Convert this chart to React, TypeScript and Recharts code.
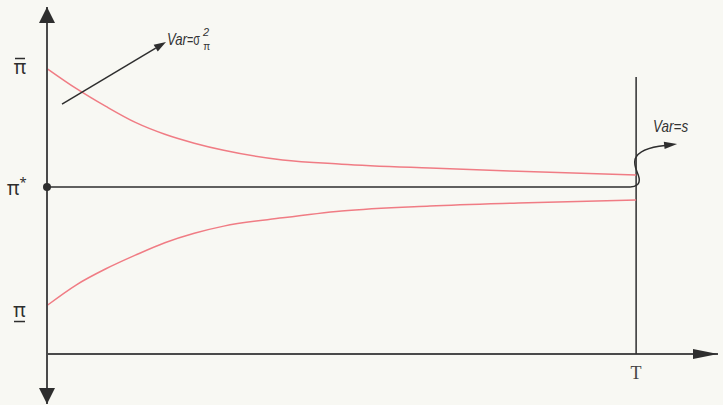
import React from "react"
import {
  ComposedChart,
  Line,
  XAxis,
  YAxis,
  ReferenceLine,
  ReferenceDot,
} from "recharts"

// time grid (T = 1) and the two price-bound paths, in units of (pi-bar - pi*)
const T_VALUES = [0, 0.05, 0.1, 0.15, 0.2, 0.25, 0.3, 0.4, 0.5, 0.65, 0.8, 1.0]
const UPPER = [1.0, 0.83, 0.68, 0.545, 0.445, 0.37, 0.31, 0.228, 0.193, 0.16, 0.133, 0.101]
const LOWER = [-1.0, -0.825, -0.69, -0.575, -0.47, -0.39, -0.33, -0.26, -0.202, -0.16, -0.135, -0.11]

const Y_TICKS = [-1, 0, 1]
const T_END = 1
const X_MAX = 1.139
const Y_MIN = -1.831
const Y_MAX = 1.519
const AXIS_Y = -1.409 // where the horizontal axis sits
const T_LINE_TOP = 0.928
const PI_STAR_END = 0.99

const data = T_VALUES.map((t, i) => ({ t, upper: UPPER[i], lower: LOWER[i] }))

const BG = "#f8f8f3"
const INK = "#2e2e2e"
const AXIS = "#4a4a4a"
const RED = "#f07c84"
const SANS = "'Noto Sans', 'Open Sans', sans-serif"
const NARROW = "'Liberation Sans Narrow', 'Liberation Sans', sans-serif"

const PiTick = (props: any) => {
  const { y, payload } = props
  const v = payload.value
  if (v === 1) {
    return (
      <g>
        <line x1={15} x2={25} y1={y - 10} y2={y - 10} stroke={INK} strokeWidth={1.5} />
        <text x={20} y={y + 5} textAnchor="middle" fontSize={19} fontFamily={SANS} fill={INK}>
          π
        </text>
      </g>
    )
  }
  if (v === 0) {
    return (
      <text x={7} y={y + 8} fontSize={19} fontFamily={SANS} fill={INK}>
        π
        <tspan dy={-8} fontSize={13}>
          *
        </tspan>
      </text>
    )
  }
  return (
    <g>
      <text x={19.5} y={y + 11} textAnchor="middle" fontSize={19} fontFamily={SANS} fill={INK}>
        π
      </text>
      <line x1={14} x2={25} y1={y + 16} y2={y + 16} stroke={INK} strokeWidth={1.5} />
    </g>
  )
}

const UpArrow = ({ cx, cy }: any) => (
  <polygon points={`${cx},${cy} ${cx - 8},${cy + 16} ${cx + 8},${cy + 16}`} fill={INK} />
)
const DownArrow = ({ cx, cy }: any) => (
  <polygon points={`${cx},${cy} ${cx - 8},${cy - 16} ${cx + 8},${cy - 16}`} fill={INK} />
)
const RightArrow = ({ cx, cy }: any) => (
  <polygon points={`${cx},${cy} ${cx - 25},${cy - 5} ${cx - 25},${cy + 5}`} fill={INK} />
)

const TLabel = ({ cx, cy }: any) => (
  <text
    x={cx}
    y={cy + 25}
    textAnchor="middle"
    fontSize={18}
    fontFamily="'Liberation Serif', 'DejaVu Serif', serif"
    fill="#444"
  >
    T
  </text>
)

// straight annotation arrow with the variance label at its tip
const VarianceArrow = (p: any) => {
  const { x1, y1, x2, y2 } = p
  const dx = x2 - x1
  const dy = y2 - y1
  const len = Math.hypot(dx, dy) || 1
  const ux = dx / len
  const uy = dy / len
  const bx = x2 - ux * 12
  const by = y2 - uy * 12
  const px = -uy * 4
  const py = ux * 4
  return (
    <g>
      <line x1={x1} y1={y1} x2={bx} y2={by} stroke={INK} strokeWidth={1.5} />
      <polygon points={`${x2},${y2} ${bx + px},${by + py} ${bx - px},${by - py}`} fill={INK} />
      {/* one text node: Var=σ with stacked 2 / π */}
      <text x={x2 + 1} y={y2 + 3} fontSize={17} fontFamily={NARROW} fill="#333">
        <tspan fontStyle="italic" textLength={20} lengthAdjust="spacingAndGlyphs">
          Var
        </tspan>
        <tspan textLength={13} lengthAdjust="spacingAndGlyphs">
          =σ
        </tspan>
        <tspan dx={3} dy={-9} fontSize={11} fontStyle="italic">
          2
        </tspan>
        <tspan dx={-6} dy={14} fontSize={10}>
          π
        </tspan>
      </text>
    </g>
  )
}

// wiggly arrow leaving the pi* line at T
const SwitchArrow = ({ cx, cy }: any) => (
  <g>
    <path
      d={`M${cx - 6},${cy} C${cx},${cy} ${cx + 4},${cy - 3} ${cx + 3},${cy - 9} C${cx + 2},${cy - 15} ${cx - 3},${cy - 20} ${cx - 1},${cy - 28} C${cx + 2},${cy - 36} ${cx + 12},${cy - 40} ${cx + 29},${cy - 41.6}`}
      fill="none"
      stroke={INK}
      strokeWidth={1.5}
    />
    <polygon
      points={`${cx + 41},${cy - 43} ${cx + 28.5},${cy - 38} ${cx + 27.7},${cy - 45.2}`}
      fill={INK}
    />
    <text
      x={cx + 17}
      y={cy - 55}
      fontSize={17}
      fontFamily={NARROW}
      fontStyle="italic"
      fill="#333"
      textLength={35}
      lengthAdjust="spacingAndGlyphs"
    >
      Var=s
    </text>
  </g>
)

export default function App() {
  return (
    <div style={{ width: 723, height: 405, background: BG }}>
      <style>{`body{margin:0;background:${BG}}`}</style>
      <ComposedChart
        width={723}
        height={405}
        data={data}
        margin={{ top: 7, right: 5, bottom: 1, left: 0 }}
      >
        <XAxis type="number" dataKey="t" domain={[0, X_MAX]} hide />
        <YAxis
          type="number"
          domain={[Y_MIN, Y_MAX]}
          ticks={Y_TICKS}
          width={47}
          tickLine={false}
          axisLine={{ stroke: AXIS, strokeWidth: 2 }}
          tick={<PiTick />}
          interval={0}
        />
        <ReferenceLine y={AXIS_Y} stroke={AXIS} strokeWidth={2} />
        <ReferenceLine
          segment={[
            { x: 0, y: 0 },
            { x: PI_STAR_END, y: 0 },
          ]}
          stroke={INK}
          strokeWidth={1.5}
        />
        <ReferenceLine
          segment={[
            { x: T_END, y: T_LINE_TOP },
            { x: T_END, y: AXIS_Y },
          ]}
          stroke={INK}
          strokeWidth={1.5}
        />
        <Line
          type="monotone"
          dataKey="upper"
          stroke={RED}
          strokeWidth={1.5}
          dot={false}
          activeDot={false}
          isAnimationActive={false}
        />
        <Line
          type="monotone"
          dataKey="lower"
          stroke={RED}
          strokeWidth={1.5}
          dot={false}
          activeDot={false}
          isAnimationActive={false}
        />
        <ReferenceLine
          segment={[
            { x: 0.0255, y: 0.7 },
            { x: 0.202, y: 1.224 },
          ]}
          shape={VarianceArrow}
        />
        <ReferenceDot x={T_END} y={0} ifOverflow="visible" shape={SwitchArrow} />
        <ReferenceDot x={0} y={0} r={4} fill={INK} stroke="none" ifOverflow="visible" />
        <ReferenceDot x={0} y={Y_MAX} ifOverflow="visible" shape={UpArrow} />
        <ReferenceDot x={0} y={Y_MIN} ifOverflow="visible" shape={DownArrow} />
        <ReferenceDot x={X_MAX} y={AXIS_Y} ifOverflow="visible" shape={RightArrow} />
        <ReferenceDot x={T_END} y={AXIS_Y} ifOverflow="visible" shape={TLabel} />
      </ComposedChart>
    </div>
  )
}
